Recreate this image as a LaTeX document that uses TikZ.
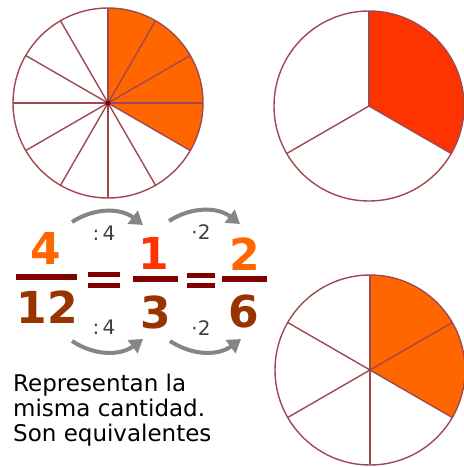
\documentclass[tikz,border=0pt]{standalone}
\usepackage{fontspec}
\setmainfont{DejaVu Sans}
\usetikzlibrary{arrows.meta}
\definecolor{pieorange}{HTML}{FF6600}
\definecolor{piered}{HTML}{FF3300}
\definecolor{numbrown}{HTML}{993300}
\definecolor{bardark}{HTML}{800000}
\definecolor{rim}{HTML}{A04850}
\definecolor{arrgray}{HTML}{858585}
\definecolor{lblgray}{HTML}{404040}
\tikzset{
  rimline/.style={draw=rim, line width=1.4pt},
  num/.style={font=\fontsize{44}{44}\selectfont\bfseries, inner sep=0pt, anchor=center},
  fbar/.style={fill=bardark},
  arr/.style={draw=arrgray, line width=4pt, -{Triangle[length=13pt,width=16pt]}},
  lbl/.style={font=\fontsize{20}{20}\selectfont, text=lblgray, inner sep=0pt},
  txt/.style={font=\fontsize{23}{25}\selectfont, align=left, anchor=base west, inner sep=0pt}
}
\begin{document}
\begin{tikzpicture}[x=1pt,y=1pt]
\useasboundingbox (0,0) rectangle (464,-467);
\fill[white] (0,0) rectangle (464,-467);
% pie 1: twelfths
\coordinate (c1) at (108,-103);
\fill[pieorange] (c1) -- ++(90:95) arc[start angle=90,end angle=-30,radius=95] -- cycle;
\foreach \a in {0,30,...,330} \draw[rimline] (c1) -- ++(\a:95);
\draw[rimline] (c1) circle (95);
\fill[bardark] (c1) circle (2.5);
% pie 2: thirds
\coordinate (c2) at (369,-106);
\fill[piered] (c2) -- ++(90:95) arc[start angle=90,end angle=-30,radius=95] -- cycle;
\foreach \a in {90,210,330} \draw[rimline] (c2) -- ++(\a:95);
\draw[rimline] (c2) circle (95);
% pie 3: sixths
\coordinate (c3) at (370,-370);
\fill[pieorange] (c3) -- ++(90:95) arc[start angle=90,end angle=-30,radius=95] -- cycle;
\foreach \a in {30,90,...,330} \draw[rimline] (c3) -- ++(\a:95);
\draw[rimline] (c3) circle (95);
% fractions
\node[num, text=pieorange] (n1) at (46,-248) {4};
\fill[fbar] (16,-274) rectangle (77,-280);
\node[num, text=numbrown] (d1) at (47,-307) {12};
\fill[fbar] (88,-272) rectangle (120,-277);
\fill[fbar] (88,-283) rectangle (120,-288);
\node[num, text=piered] (n2) at (154,-253) {1};
\fill[fbar] (133,-276) rectangle (178,-282);
\node[num, text=numbrown] (d2) at (156,-312) {3};
\fill[fbar] (187,-273) rectangle (215,-278);
\fill[fbar] (187,-283) rectangle (215,-288);
\node[num, text=pieorange] (n3) at (245,-254) {2};
\fill[fbar] (222,-276) rectangle (267,-282);
\node[num, text=numbrown] (d3) at (244,-311) {6};
% arrows
\coordinate (t1s) at (72,-222); \coordinate (t1e) at (143,-225);
\coordinate (t2s) at (169,-221); \coordinate (t2e) at (240,-224);
\coordinate (b1s) at (72,-341); \coordinate (b1e) at (143,-339);
\coordinate (b2s) at (170,-341); \coordinate (b2e) at (241,-339);
\draw[arr] (t1s) to[bend left=35] (t1e);
\draw[arr] (t2s) to[bend left=35] (t2e);
\draw[arr] (b1s) to[bend right=35] (b1e);
\draw[arr] (b2s) to[bend right=35] (b2e);
\node[lbl] (l1) at (104,-233) {:\,4};
\node[lbl] (l2) at (201,-232) {·2};
\node[lbl] (l3) at (104,-327) {:\,4};
\node[lbl] (l4) at (201,-328) {·2};
% caption
\node[txt] (cap) at (13,-441) {Representan la\\misma cantidad.\\Son equivalentes};
\end{tikzpicture}
\end{document}
